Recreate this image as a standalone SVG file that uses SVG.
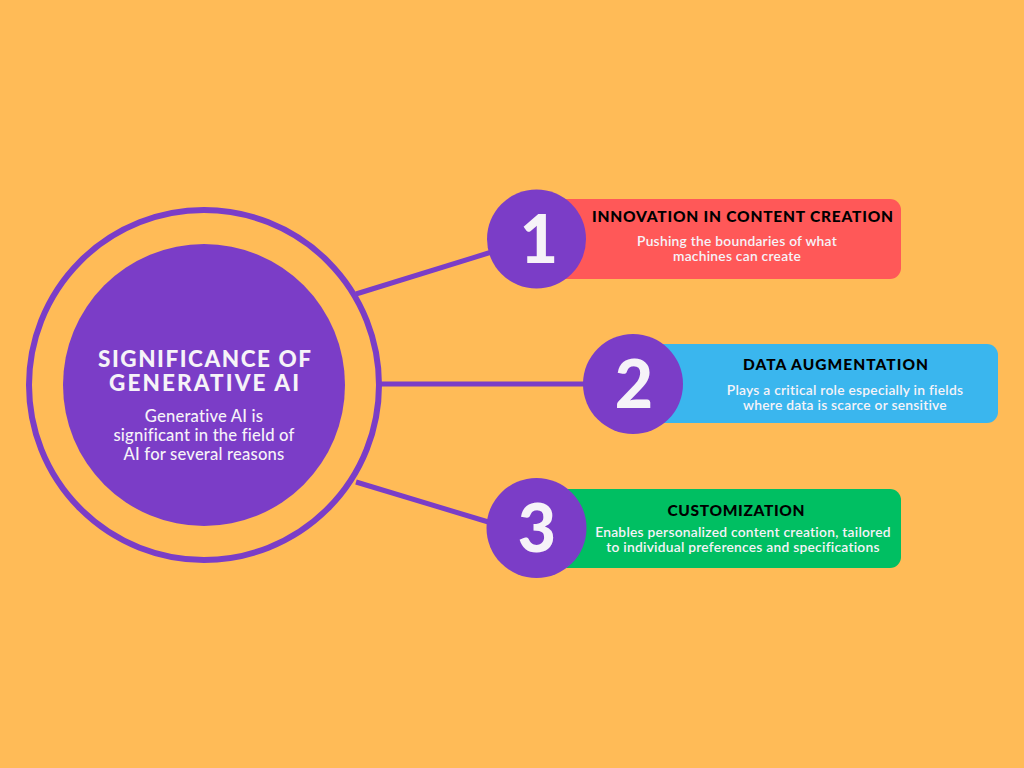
<svg xmlns="http://www.w3.org/2000/svg" width="1024" height="768" viewBox="0 0 1024 768">
<style>
.purple{fill:#7B3DC7}
.ring{fill:none;stroke:#7B3DC7;stroke-width:6}
.conn{stroke:#7B3DC7;stroke-width:5;fill:none}
.t{font-family:"Lato","Liberation Sans",sans-serif;text-anchor:middle}
.h{font-weight:900;font-size:15.5px;fill:#000}
.s{font-size:13.8px;fill:#F6F3F8;font-weight:600;letter-spacing:0.25px}
.c{font-size:16.6px;fill:#F6F3F8;font-weight:500;letter-spacing:0.2px}
.ct{font-size:22.5px;fill:#F6F3F8;font-weight:900}
.num{font-family:"Lato","Liberation Sans",sans-serif;font-weight:900;font-size:66px;fill:#F6F3F8;text-anchor:middle}
</style>
<rect width="1024" height="768" fill="#FFBB57"/>
<g id="connectors">
<line class="conn" x1="356" y1="294" x2="495" y2="251"/>
<line class="conn" x1="381" y1="384" x2="590" y2="384"/>
<line class="conn" x1="356" y1="482" x2="495" y2="524"/>
</g>
<g id="center">
<circle class="ring" cx="204" cy="385" r="175"/>
<circle class="purple" cx="204" cy="385" r="141"/>
<text class="t ct" x="204.5" y="367" textLength="213" lengthAdjust="spacing">SIGNIFICANCE OF</text>
<text class="t ct" x="204" y="391" textLength="190" lengthAdjust="spacing">GENERATIVE AI</text>
<text class="t c" x="204" y="422">Generative AI is</text>
<text class="t c" x="204" y="441">significant in the field of</text>
<text class="t c" x="204" y="460">AI for several reasons</text>
</g>
<g id="item1">
<rect x="530" y="199" width="371" height="80" rx="11" fill="#FF5858"/>
<circle class="purple" cx="536.5" cy="239" r="49.5"/>
<text class="num" x="539" y="263">1</text>
<text class="t h" x="742.5" y="222" textLength="301" lengthAdjust="spacing">INNOVATION IN CONTENT CREATION</text>
<text class="t s" x="737" y="246">Pushing the boundaries of what</text>
<text class="t s" x="737" y="261">machines can create</text>
</g>
<g id="item2">
<rect x="627" y="344" width="371" height="79" rx="11" fill="#3AB6EE"/>
<circle class="purple" cx="633" cy="384" r="50"/>
<text class="num" x="634" y="408">2</text>
<text class="t h" x="835.5" y="370" textLength="185" lengthAdjust="spacing">DATA AUGMENTATION</text>
<text class="t s" x="845" y="395">Plays a critical role especially in fields</text>
<text class="t s" x="845" y="410">where data is scarce or sensitive</text>
</g>
<g id="item3">
<rect x="530" y="489" width="371" height="79" rx="11" fill="#00BF62"/>
<circle class="purple" cx="536.5" cy="528" r="50"/>
<text class="num" x="537" y="552">3</text>
<text class="t h" x="736" y="516" textLength="137" lengthAdjust="spacing">CUSTOMIZATION</text>
<text class="t s" x="743" y="537">Enables personalized content creation, tailored</text>
<text class="t s" x="743" y="552">to individual preferences and specifications</text>
</g>
</svg>
